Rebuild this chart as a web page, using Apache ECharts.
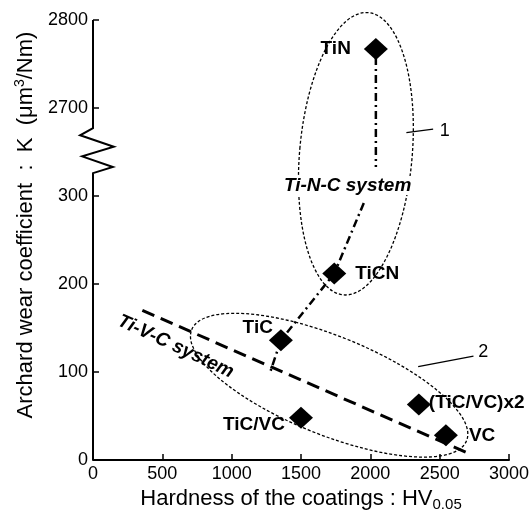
<!DOCTYPE html>
<html>
<head>
<meta charset="utf-8">
<script src="https://cdn.jsdelivr.net/npm/echarts@6/dist/echarts.min.js"></script>
<style>
  html, body { margin: 0; background: #fff; }
  #chart { width: 532px; height: 519px; }
</style>
</head>
<body>
<div id="chart"></div>
<script>
// coatings: Vickers hardness HV0.05 and Archard wear coefficient K (um3/Nm)
var coatings = ['TiN', 'TiCN', 'TiC', 'TiC/VC', '(TiC/VC)x2', 'VC'];
var hardness = [2040, 1740, 1355, 1500, 2350, 2545];
var wearK = [2767, 212, 136, 48, 63, 28];

var xTicks = [0, 500, 1000, 1500, 2000, 2500, 3000];
var yTickLabels = ['0', '100', '200', '300', '2700', '2800'];

// the K axis is broken between 300 and 2700, plotted on 0..500 "axis units"
function toAxis(k) { return k >= 2700 ? k - 2300 : k; }

// guide lines, given in axis units (x = hardness, y = axis units)
var tiNCVertical = [[2040, 458], [2040, 333]];
var tiNCDiagonal = [[1953, 292], [1740, 212], [1355, 136], [1276, 99]];
var tiVCLine = [[356, 170], [2700, 8]];
var yAxisBreak = [[0, 500], [0, 377], [-93, 369], [150, 356], [-78, 345], [143, 333], [0, 326], [0, 0]];
var leader1 = [[2260, 372], [2453, 376]];
var leader2 = [[2345, 106], [2744, 118]];

// dotted ellipses: centre x, centre y, radius x, radius y (axis units), tilt (deg)
var ellipses = [[1896, 348, 406, 161, -5], [1703, 85, 1069, 56, -22]];

// text notes: text, x, y (axis units), tilt (deg)
var noteText = ['Ti-N-C system', 'Ti-V-C system', '1', '2'];
var notePos = [[1836, 312, 0], [596, 129, -25], [2537, 374, 0], [2815, 123, 0]];

var font = 'Liberation Sans, Arial, sans-serif';

var labelPlace = {
  'TiN': { position: 'left', distance: 13 },
  'TiCN': { position: 'right', distance: 9 },
  'TiC': { position: 'left', distance: 0, offset: [4, -13] },
  'TiC/VC': { position: 'left', distance: 4, offset: [0, 7] },
  '(TiC/VC)x2': { position: 'right', distance: -2, offset: [0, -2] },
  'VC': { position: 'right', distance: 11 }
};

var points = coatings.map(function (n, i) {
  var lp = labelPlace[n];
  return {
    name: n,
    value: [hardness[i], toAxis(wearK[i])],
    label: {
      show: true, formatter: n, position: lp.position, distance: lp.distance,
      offset: lp.offset || [0, 0], color: '#000', fontSize: 19, fontWeight: 'bold', fontFamily: font
    }
  };
});

function plainLine(data, width, dash) {
  return {
    type: 'line', data: data, symbol: 'none', clip: false, silent: true, z: 3,
    lineStyle: { color: '#000', width: width, type: dash || 'solid', opacity: 1 }
  };
}

var chart = echarts.init(document.getElementById('chart'));
chart.setOption({
  animation: false,
  grid: { left: 93, right: 18, top: 20, bottom: 59 },
  xAxis: {
    type: 'value', min: xTicks[0], max: xTicks[xTicks.length - 1], interval: 500,
    name: '{a|Hardness of the coatings : HV}{s|0.05}',
    nameLocation: 'middle', nameGap: 15,
    nameTextStyle: {
      color: '#000', fontFamily: font,
      rich: { a: { fontSize: 22, fontFamily: font, color: '#000' },
              s: { fontSize: 15, fontFamily: font, color: '#000', padding: [11, 0, 0, 0] } }
    },
    axisLine: { lineStyle: { color: '#000', width: 2 } },
    axisTick: { inside: true, length: 6, lineStyle: { color: '#000', width: 1.5 } },
    axisLabel: { color: '#000', fontSize: 18, fontFamily: font, margin: 5,
                 formatter: function (v) { return String(v); } },
    splitLine: { show: false }
  },
  yAxis: {
    type: 'value', min: 0, max: 500, interval: 100,
    name: '{a|Archard wear coefficient  :  K  (μm}{p|3}{a|/Nm)}',
    nameLocation: 'middle', nameRotate: 90, nameGap: 49,
    nameTextStyle: {
      color: '#000', fontFamily: font, padding: [0, 0, 0, 30],
      rich: { a: { fontSize: 22, fontFamily: font, color: '#000' },
              p: { fontSize: 14, fontFamily: font, color: '#000', padding: [0, 0, 11, 0] } }
    },
    axisLine: { show: false },
    axisTick: { show: true, inside: true, length: 6, lineStyle: { color: '#000', width: 1.5 } },
    axisLabel: {
      color: '#000', fontSize: 18, fontFamily: font, margin: 5,
      formatter: function (v) { return yTickLabels[Math.round(v / 100)]; }
    },
    splitLine: { show: false }
  },
  series: [
    {
      // y axis line with its break mark
      type: 'custom', clip: false, silent: true, z: 3,
      data: [0],
      renderItem: function (params, api) {
        return {
          type: 'polyline',
          shape: { points: yAxisBreak.map(function (p) { return api.coord(p); }) },
          style: { fill: 'none', stroke: '#000', lineWidth: 2 }
        };
      }
    },
    plainLine(tiNCVertical, 2.5, [8, 4, 2, 4]),
    plainLine(tiNCDiagonal, 2.5, [8, 4, 2, 4]),
    plainLine(tiVCLine, 3, [13, 7]),
    plainLine(leader1, 1.3),
    plainLine(leader2, 1.3),
    {
      type: 'custom', clip: false, silent: true, z: 2,
      data: ellipses,
      renderItem: function (params, api) {
        var c = api.coord([api.value(0), api.value(1)]);
        var s = api.size([api.value(2), api.value(3)]);
        return {
          type: 'ellipse', x: c[0], y: c[1], rotation: api.value(4) * Math.PI / 180,
          shape: { cx: 0, cy: 0, rx: s[0], ry: s[1] },
          style: { fill: 'none', stroke: '#000', lineWidth: 1.3, lineDash: [3, 2] }
        };
      }
    },
    {
      type: 'custom', clip: false, silent: true, z: 4,
      data: notePos,
      renderItem: function (params, api) {
        var c = api.coord([api.value(0), api.value(1)]);
        var t = noteText[params.dataIndex];
        var isSys = t.length > 2;
        return {
          type: 'text', x: c[0], y: c[1], rotation: api.value(2) * Math.PI / 180,
          style: {
            text: t, align: 'center', verticalAlign: 'middle', fill: '#000',
            font: (isSys ? 'italic bold 19px ' : '18px ') + font,
            backgroundColor: params.dataIndex === 0 ? '#fff' : null
          }
        };
      }
    },
    {
      type: 'scatter', data: points, symbol: 'diamond', symbolSize: [24, 22], z: 5,
      itemStyle: { color: '#000', opacity: 1 }
    }
  ]
});
</script>
</body>
</html>
